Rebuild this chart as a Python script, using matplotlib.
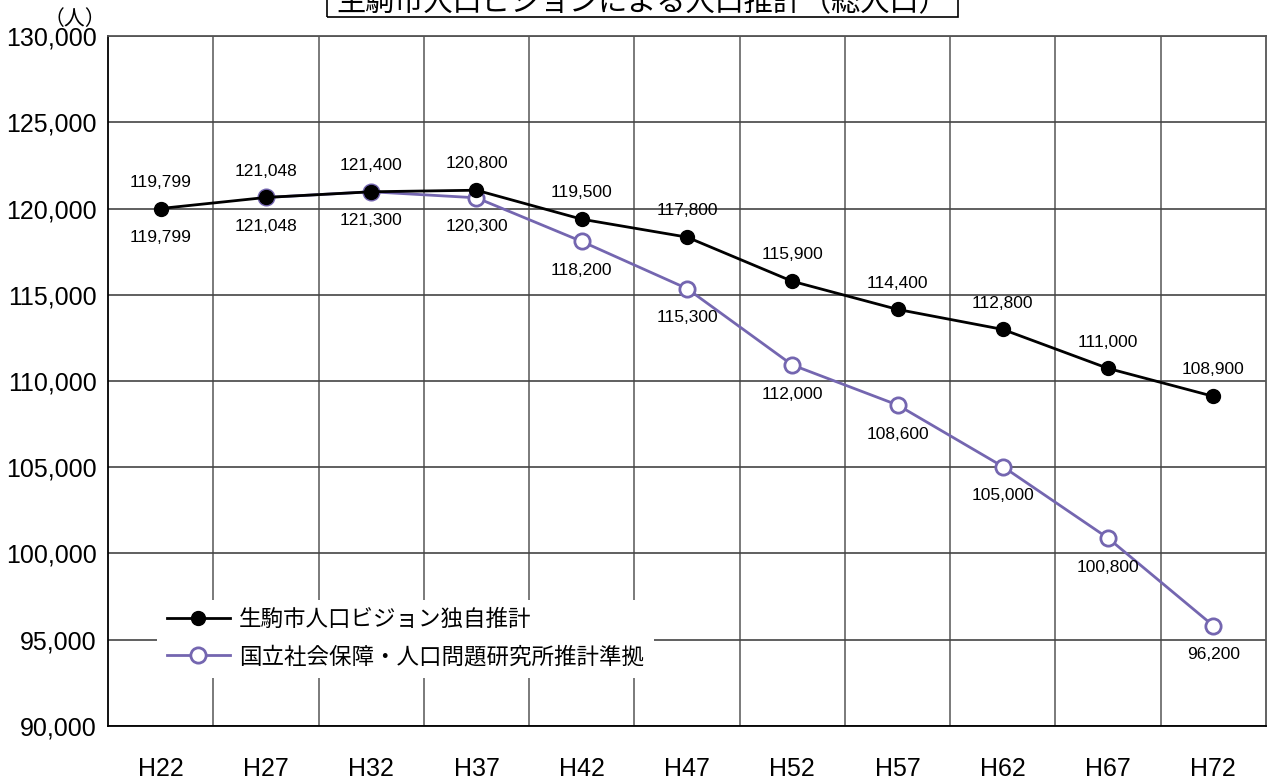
import numpy as np
import matplotlib
matplotlib.use("Agg")
import matplotlib.pyplot as plt
from matplotlib.patches import Rectangle

plt.rcParams['font.family'] = ['Liberation Sans', 'Noto Sans CJK JP', 'DejaVu Sans']

# データ
years = ['H22', 'H27', 'H32', 'H37', 'H42', 'H47', 'H52', 'H57', 'H62', 'H67', 'H72']
# 独自推計（グラフ上の点の位置）
own_pos = [120000, 120640, 120970, 121060, 119380, 118340, 115780, 114150, 112990, 110730, 109110]
own_lbl = ['119,799', '121,048', '121,400', '120,800', '119,500', '117,800',
           '115,900', '114,400', '112,800', '111,000', '108,900']
# 社人研推計準拠（H22は独自推計と同じ点）
ipss_pos = [np.nan, 120640, 120970, 120620, 118090, 115360, 110930, 108610, 105040, 100890, 95810]
ipss_lbl = ['119,799', '121,048', '121,300', '120,300', '118,200', '115,300',
            '112,000', '108,600', '105,000', '100,800', '96,200']
yticks = [90000, 95000, 100000, 105000, 110000, 115000, 120000, 125000, 130000]

purple = '#7466b0'

fig = plt.figure(figsize=(12.83, 7.8), dpi=100)
ax = fig.add_axes([108 / 1283, 54 / 780, 1158 / 1283, 690 / 780])

x = np.arange(len(years))
ax.plot(x, ipss_pos, color=purple, lw=2, marker='o', ms=11, mfc='white',
        mec=purple, mew=2, label='国立社会保障・人口問題研究所推計準拠', zorder=3)
ax.plot(x, own_pos, color='black', lw=2, marker='o', ms=10, mfc='black',
        mec='black', label='生駒市人口ビジョン独自推計', zorder=4)

# データラベル
for i in range(len(years)):
    ax.annotate(own_lbl[i], (x[i], own_pos[i]), xytext=(0, 19), textcoords='offset points',
                ha='center', va='center', fontsize=12.5)
    yp = ipss_pos[i] if not np.isnan(ipss_pos[i]) else own_pos[i]
    ax.annotate(ipss_lbl[i], (x[i], yp), xytext=(0, -21), textcoords='offset points',
                ha='center', va='center', fontsize=12.5)

ax.set_xlim(-0.5, len(years) - 0.5)
ax.set_ylim(90000, 130000)
ax.set_xticks(x)
ax.set_xticklabels(years, fontsize=18)
ax.set_xticks(x[:-1] + 0.5, minor=True)
ax.set_yticks(yticks)
ax.set_yticklabels([f'{v:,}' for v in yticks], fontsize=18)
ax.tick_params(axis='both', which='both', length=0)
ax.tick_params(axis='x', pad=22)
ax.tick_params(axis='y', pad=8)

ax.grid(True, axis='y', which='major', color='#444444', lw=1.2)
ax.grid(True, axis='x', which='minor', color='#707070', lw=1.3)
ax.set_axisbelow(True)
for s in ['left', 'bottom']:
    ax.spines[s].set_color('black')
    ax.spines[s].set_linewidth(1.3)
for s in ['top', 'right']:
    ax.spines[s].set_color('#555555')
    ax.spines[s].set_linewidth(1.3)

h, l = ax.get_legend_handles_labels()
leg = ax.legend(h[::-1], l[::-1], loc='upper left', bbox_to_anchor=(0.042, 0.183),
                frameon=True, facecolor='white', edgecolor='none', framealpha=1,
                fontsize=16.2, handlelength=2.8, handletextpad=0.4,
                labelspacing=0.68, borderpad=0.45, borderaxespad=0)
leg.get_frame().set_boxstyle('square', pad=0)
leg.set_zorder(5)

# 単位
fig.text(75 / 1283, 1 - 19 / 780, '（人）', ha='center', va='center', fontsize=15)

# タイトル（上が切れている）
fig.patches.append(Rectangle((327 / 1283, 1 - 17 / 780), 631 / 1283, 0.05,
                             transform=fig.transFigure, fill=False,
                             edgecolor='black', lw=1.2, clip_on=False))
fig.text(642 / 1283, 1 - 2 / 780, '生駒市人口ビジョンによる人口推計（総人口）',
         ha='center', va='center', fontsize=21)

fig.savefig('out.png', dpi=100)
